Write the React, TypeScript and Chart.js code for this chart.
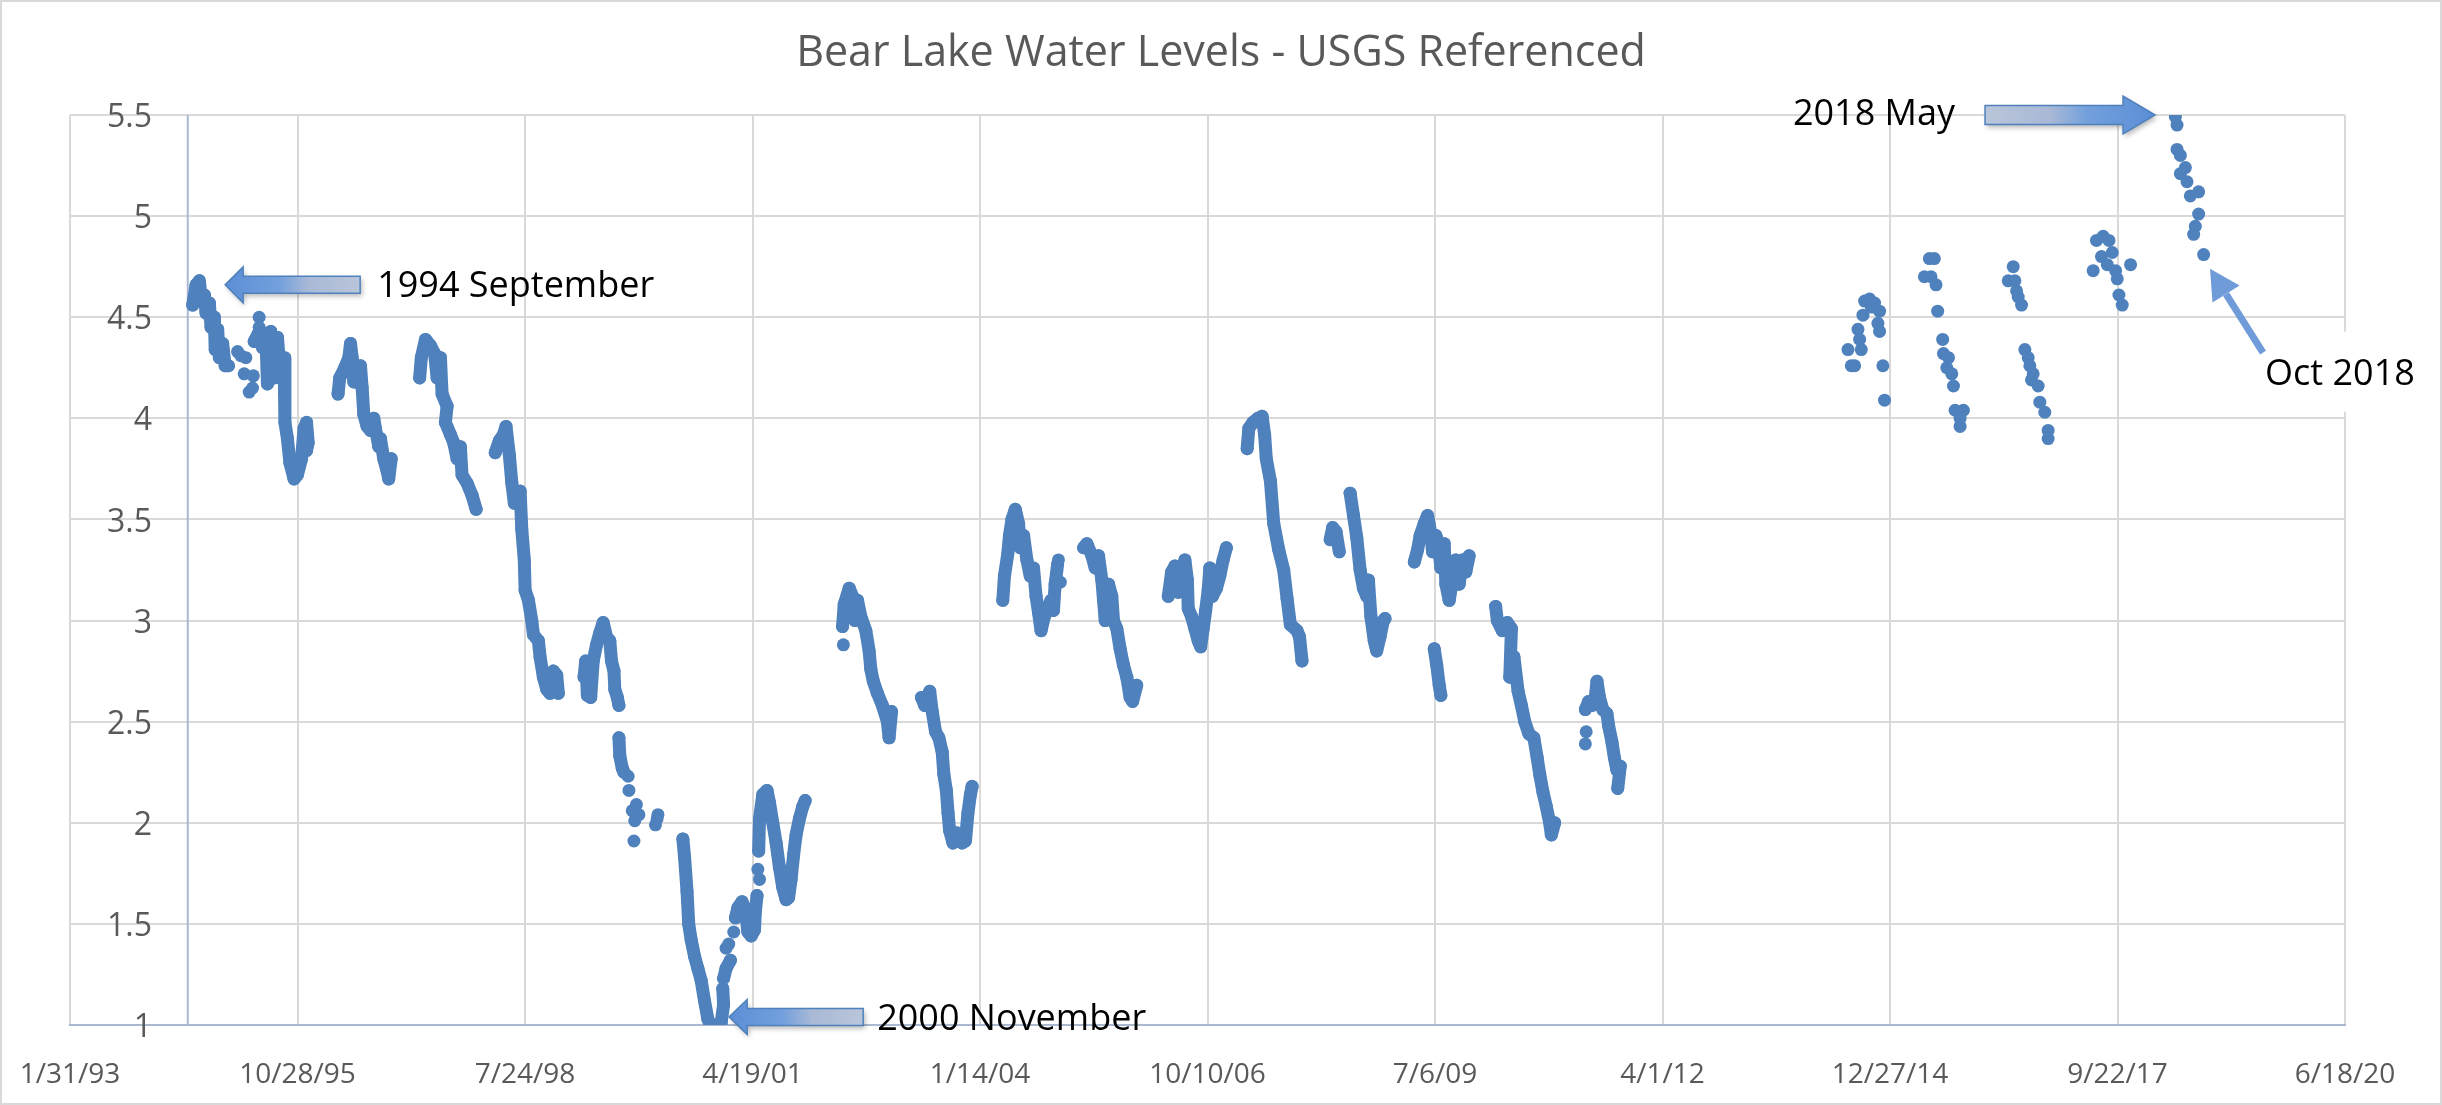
import { useEffect, useRef } from "react";
import { Chart, registerables } from "chart.js";

Chart.register(...registerables);

// x axis is an Excel-style date serial (days since 1899-12-30); readings are
// noted as decimal years and converted on the way in.
const toSerial = (year: number) => {
  const whole = Math.floor(year);
  return (Date.UTC(whole, 0, 1) - Date.UTC(1899, 11, 30)) / 864e5 + (year - whole) * 365.25;
};

const chartTitle = "Bear Lake Water Levels - USGS Referenced";

const xTickLabels = [
  "1/31/93", "10/28/95", "7/24/98", "4/19/01", "1/14/04", "10/10/06",
  "7/6/09", "4/1/12", "12/27/14", "9/22/17", "6/18/20",
];
const xFirstTick = 34000;
const xLastTick = 44000;
const xTickStep = 1000;
const yTickValues = [1, 1.5, 2, 2.5, 3, 3.5, 4, 4.5, 5, 5.5];
// vertical axis crosses the date axis here (Excel "crosses at")
const axisCrossYear = 1994.5;
// right edge of the value labels, a little left of that axis
const yLabelEdgeYear = 1994.07;

type Reading = [number, number]; // [decimal year, level]

// dense daily stretches (drawn as joined dots)
const run1994: Reading[] = [
  [1994.56, 4.56], [1994.6, 4.66], [1994.64, 4.68], [1994.66, 4.6], [1994.7, 4.61], [1994.72, 4.52],
  [1994.76, 4.57], [1994.78, 4.45], [1994.82, 4.5], [1994.83, 4.34], [1994.86, 4.44], [1994.88, 4.3],
  [1994.92, 4.37], [1994.95, 4.26], [1994.99, 4.26],
];
const run1995: Reading[] = [
  [1995.3, 4.38], [1995.35, 4.42], [1995.4, 4.35], [1995.44, 4.42], [1995.46, 4.17], [1995.5, 4.43],
  [1995.54, 4.2], [1995.58, 4.4], [1995.62, 4.2], [1995.66, 4.3], [1995.67, 3.98], [1995.7, 3.9],
  [1995.73, 3.78], [1995.78, 3.7], [1995.82, 3.72], [1995.87, 3.8], [1995.9, 3.95], [1995.93, 3.98],
  [1995.95, 3.88], [1995.93, 3.84],
];
const run1996: Reading[] = [
  [1996.31, 4.12], [1996.33, 4.2], [1996.38, 4.24], [1996.44, 4.3], [1996.46, 4.37], [1996.48, 4.3],
  [1996.5, 4.18], [1996.54, 4.22], [1996.58, 4.26], [1996.6, 4.15], [1996.62, 4.02], [1996.66, 3.96],
  [1996.7, 3.94], [1996.74, 4.0], [1996.76, 3.95], [1996.8, 3.86], [1996.82, 3.9], [1996.86, 3.8],
  [1996.9, 3.74], [1996.92, 3.7], [1996.95, 3.8],
];
const run1997: Reading[] = [
  [1997.29, 4.2], [1997.31, 4.3], [1997.36, 4.39], [1997.42, 4.36], [1997.47, 4.32], [1997.5, 4.2],
  [1997.54, 4.3], [1997.56, 4.12], [1997.62, 4.06], [1997.6, 3.98], [1997.66, 3.92], [1997.7, 3.88],
  [1997.74, 3.8], [1997.78, 3.86], [1997.8, 3.72], [1997.86, 3.68], [1997.92, 3.62], [1997.97, 3.55],
];
const run1998: Reading[] = [
  [1998.2, 3.83], [1998.25, 3.89], [1998.3, 3.92], [1998.33, 3.96], [1998.37, 3.82], [1998.4, 3.68],
  [1998.43, 3.58], [1998.5, 3.64], [1998.52, 3.45], [1998.55, 3.3], [1998.56, 3.15], [1998.6, 3.1],
  [1998.64, 3.0], [1998.66, 2.93], [1998.72, 2.9], [1998.74, 2.82], [1998.78, 2.72], [1998.82, 2.66],
  [1998.86, 2.64], [1998.9, 2.75], [1998.94, 2.73], [1998.96, 2.64],
];
const run1999: Reading[] = [
  [1999.27, 2.72], [1999.29, 2.8], [1999.31, 2.63], [1999.35, 2.62], [1999.38, 2.8], [1999.42, 2.88],
  [1999.46, 2.94], [1999.5, 2.99], [1999.54, 2.92], [1999.58, 2.9], [1999.6, 2.8], [1999.63, 2.75],
  [1999.64, 2.66], [1999.67, 2.62], [1999.69, 2.58],
];
const run1999Fall: Reading[] = [[1999.69, 2.42], [1999.7, 2.33], [1999.73, 2.27], [1999.75, 2.25]];
const run2000: Reading[] = [
  [2000.46, 1.92], [2000.48, 1.83], [2000.51, 1.66], [2000.53, 1.5], [2000.56, 1.42], [2000.6, 1.34],
  [2000.64, 1.28], [2000.68, 1.22], [2000.72, 1.12], [2000.76, 1.03], [2000.79, 1.0], [2000.86, 1.0],
  [2000.92, 1.01], [2000.95, 1.1], [2000.94, 1.18],
];
const run2001Early: Reading[] = [[2000.95, 1.23], [2000.98, 1.28], [2001.03, 1.32]];
const run2001Spring: Reading[] = [
  [2001.09, 1.53], [2001.12, 1.58], [2001.17, 1.61], [2001.21, 1.57], [2001.24, 1.46], [2001.28, 1.44],
  [2001.32, 1.47], [2001.33, 1.56], [2001.35, 1.64],
];
const run2001: Reading[] = [
  [2001.37, 1.86], [2001.38, 2.02], [2001.42, 2.14], [2001.47, 2.16], [2001.5, 2.1], [2001.54, 2.0],
  [2001.58, 1.9], [2001.62, 1.78], [2001.66, 1.68], [2001.7, 1.62], [2001.73, 1.63], [2001.76, 1.72],
  [2001.79, 1.84], [2001.82, 1.94], [2001.86, 2.02], [2001.9, 2.08], [2001.93, 2.11],
];
const run2002: Reading[] = [
  [2002.38, 2.97], [2002.4, 3.08], [2002.46, 3.16], [2002.5, 3.12], [2002.53, 3.0], [2002.56, 3.1],
  [2002.6, 3.02], [2002.66, 2.95], [2002.7, 2.85], [2002.72, 2.76], [2002.75, 2.7], [2002.8, 2.64],
  [2002.86, 2.58], [2002.92, 2.5], [2002.94, 2.42], [2002.97, 2.55],
];
const run2003: Reading[] = [
  [2003.33, 2.62], [2003.37, 2.58], [2003.43, 2.65], [2003.46, 2.55], [2003.5, 2.45], [2003.54, 2.42],
  [2003.58, 2.35], [2003.6, 2.24], [2003.63, 2.16], [2003.65, 2.05], [2003.67, 1.96], [2003.71, 1.9],
  [2003.76, 1.95], [2003.82, 1.9], [2003.86, 1.91], [2003.89, 2.05], [2003.92, 2.14], [2003.94, 2.18],
];
const run2004: Reading[] = [
  [2004.31, 3.1], [2004.33, 3.22], [2004.37, 3.33], [2004.39, 3.42], [2004.42, 3.5], [2004.46, 3.55],
  [2004.5, 3.48], [2004.52, 3.36], [2004.56, 3.42], [2004.6, 3.3], [2004.64, 3.22], [2004.68, 3.26],
  [2004.71, 3.12], [2004.74, 3.04], [2004.77, 2.95], [2004.81, 3.02], [2004.85, 3.06], [2004.89, 3.1],
  [2004.92, 3.05], [2004.94, 3.18], [2004.97, 3.28],
];
const run2005: Reading[] = [
  [2005.28, 3.36], [2005.32, 3.38], [2005.38, 3.32], [2005.42, 3.26], [2005.46, 3.32], [2005.5, 3.2],
  [2005.52, 3.1], [2005.54, 3.0], [2005.58, 3.18], [2005.62, 3.12], [2005.64, 3.0], [2005.68, 2.96],
  [2005.72, 2.86], [2005.76, 2.78], [2005.8, 2.72], [2005.84, 2.62], [2005.87, 2.6], [2005.92, 2.68],
];
const run2006: Reading[] = [
  [2006.3, 3.12], [2006.34, 3.24], [2006.38, 3.27], [2006.42, 3.14], [2006.46, 3.2], [2006.5, 3.3],
  [2006.53, 3.2], [2006.54, 3.06], [2006.58, 3.02], [2006.62, 2.96], [2006.66, 2.9], [2006.69, 2.87],
  [2006.72, 2.96], [2006.75, 3.05], [2006.78, 3.15], [2006.8, 3.26], [2006.83, 3.12], [2006.88, 3.16],
  [2006.92, 3.22], [2006.96, 3.3], [2007.0, 3.36],
];
const run2007: Reading[] = [
  [2007.25, 3.85], [2007.27, 3.95], [2007.32, 3.98], [2007.38, 4.0], [2007.43, 4.01], [2007.46, 3.92],
  [2007.48, 3.8], [2007.53, 3.69], [2007.57, 3.48], [2007.63, 3.35], [2007.69, 3.25], [2007.73, 3.11],
  [2007.77, 2.98], [2007.85, 2.95], [2007.88, 2.92], [2007.91, 2.8],
];
const run2008Early: Reading[] = [[2008.25, 3.4], [2008.28, 3.46], [2008.32, 3.44], [2008.36, 3.34]];
const run2008: Reading[] = [
  [2008.49, 3.63], [2008.53, 3.52], [2008.57, 3.41], [2008.61, 3.25], [2008.65, 3.16], [2008.69, 3.12],
  [2008.71, 3.2], [2008.74, 3.02], [2008.78, 2.9], [2008.81, 2.85], [2008.85, 2.92], [2008.89, 3.0],
  [2008.91, 3.01],
];
const run2009: Reading[] = [
  [2009.26, 3.29], [2009.3, 3.35], [2009.33, 3.42], [2009.38, 3.48], [2009.42, 3.52], [2009.46, 3.43],
  [2009.48, 3.34], [2009.52, 3.42], [2009.55, 3.38], [2009.58, 3.26], [2009.62, 3.38], [2009.64, 3.18],
  [2009.68, 3.1], [2009.72, 3.2], [2009.76, 3.3], [2009.8, 3.18], [2009.84, 3.3], [2009.88, 3.24],
  [2009.92, 3.32],
];
const run2009Column: Reading[] = [[2009.5, 2.86], [2009.53, 2.78], [2009.56, 2.68], [2009.58, 2.63]];
const run2010: Reading[] = [
  [2010.24, 3.07], [2010.26, 3.0], [2010.32, 2.95], [2010.38, 2.99], [2010.43, 2.96], [2010.41, 2.72],
  [2010.46, 2.82], [2010.51, 2.65], [2010.55, 2.58], [2010.59, 2.5], [2010.64, 2.44], [2010.7, 2.42],
  [2010.74, 2.32], [2010.77, 2.24], [2010.81, 2.15], [2010.85, 2.08], [2010.89, 2.0], [2010.91, 1.94],
  [2010.95, 2.0],
];
const run2011: Reading[] = [
  [2011.32, 2.56], [2011.36, 2.6], [2011.4, 2.58], [2011.44, 2.62], [2011.46, 2.7], [2011.49, 2.62],
  [2011.53, 2.56], [2011.58, 2.54], [2011.6, 2.48], [2011.64, 2.4], [2011.67, 2.32], [2011.7, 2.26],
  [2011.74, 2.28], [2011.71, 2.17],
];

// single scattered readings
const spots1995: Reading[] = [
  [1995.1, 4.33], [1995.14, 4.31], [1995.2, 4.3], [1995.18, 4.22], [1995.29, 4.21], [1995.24, 4.13],
  [1995.28, 4.15], [1995.36, 4.5], [1995.36, 4.45],
];
const spots1999: Reading[] = [
  [1999.8, 2.23], [1999.81, 2.16], [1999.85, 2.06], [1999.9, 2.09], [1999.88, 2.01], [1999.93, 2.04],
  [1999.87, 1.91], [2000.13, 1.99], [2000.16, 2.04], [2000.15, 2.02],
];
const spots2001: Reading[] = [[2000.98, 1.38], [2001.01, 1.4], [2001.07, 1.46], [2001.36, 1.77], [2001.38, 1.72]];
const spots2002: Reading[] = [[2002.39, 2.88], [2004.98, 3.3], [2005.0, 3.19]];
const spots2011: Reading[] = [[2011.33, 2.45], [2011.32, 2.39]];
const reads2014: Reading[] = [
  [2014.68, 4.58], [2014.74, 4.59], [2014.8, 4.57], [2014.86, 4.53], [2014.66, 4.51], [2014.6, 4.44],
  [2014.62, 4.39], [2014.48, 4.34], [2014.64, 4.34], [2014.52, 4.26], [2014.56, 4.26], [2014.86, 4.43],
  [2014.9, 4.26], [2014.92, 4.09], [2014.84, 4.47], [2014.76, 4.55],
];
const reads2015: Reading[] = [
  [2015.46, 4.79], [2015.52, 4.79], [2015.4, 4.7], [2015.48, 4.7], [2015.54, 4.66], [2015.56, 4.53],
  [2015.62, 4.39], [2015.63, 4.32], [2015.69, 4.3], [2015.67, 4.25], [2015.73, 4.22], [2015.75, 4.16],
  [2015.77, 4.04], [2015.87, 4.04], [2015.83, 4.0], [2015.83, 3.96],
];
const reads2016: Reading[] = [
  [2016.47, 4.75], [2016.41, 4.68], [2016.49, 4.68], [2016.51, 4.63], [2016.53, 4.6], [2016.57, 4.56],
  [2016.61, 4.34], [2016.65, 4.3], [2016.67, 4.26], [2016.71, 4.22], [2016.69, 4.19], [2016.77, 4.16],
  [2016.79, 4.08], [2016.85, 4.03], [2016.89, 3.94], [2016.89, 3.9],
];
const reads2017: Reading[] = [
  [2017.47, 4.88], [2017.55, 4.9], [2017.62, 4.88], [2017.66, 4.82], [2017.53, 4.8], [2017.6, 4.76],
  [2017.43, 4.73], [2017.7, 4.73], [2017.88, 4.76], [2017.72, 4.69], [2017.74, 4.61], [2017.78, 4.56],
];
const reads2018: Reading[] = [
  [2018.42, 5.49], [2018.44, 5.45], [2018.44, 5.33], [2018.48, 5.3], [2018.54, 5.24], [2018.48, 5.21],
  [2018.56, 5.17], [2018.6, 5.1], [2018.7, 5.12], [2018.7, 5.01], [2018.66, 4.95], [2018.64, 4.91],
  [2018.76, 4.81],
];

const levelRuns = [
  run1994, run1995, run1996, run1997, run1998, run1999, run1999Fall, run2000, run2001Early,
  run2001Spring, run2001, run2002, run2003, run2004, run2005, run2006, run2007, run2008Early,
  run2008, run2009, run2009Column, run2010, run2011,
];
const spotReadings = [
  ...spots1995, ...spots1999, ...spots2001, ...spots2002, ...spots2011,
  ...reads2014, ...reads2015, ...reads2016, ...reads2017, ...reads2018,
];

// callouts: anchored at the arrow tip (data coords), the rest in px
const blockCallouts = [
  { text: "1994 September", tipYear: 1994.95, tipLevel: 4.66, dir: -1, headLen: 18, headH: 36, bodyLen: 117, bodyH: 17, gap: 17, textDy: 2 },
  { text: "2000 November", tipYear: 2001.015, tipLevel: 1.04, dir: -1, headLen: 18, headH: 35, bodyLen: 116, bodyH: 17, gap: 14, textDy: 3 },
  { text: "2018 May", tipYear: 2018.175, tipLevel: 5.5, dir: 1, headLen: 32, headH: 38, bodyLen: 138, bodyH: 19, gap: 30, textDy: 0 },
];
const pointerCallout = { text: "Oct 2018", tipYear: 2018.837, tipLevel: 4.74, tailDx: 53, tailDy: 84, headLen: 30, headHalf: 16, textDx: 55, textDy: 106 };

const FONT = '"Open Sans", sans-serif';
const DOT = "#4f81bd";
const GRID = "#d9d9d9";
const AXIS = "#aab8d0";
const LABEL = "#595959";

const toPoints = (rows: Reading[]) => rows.map(([yr, lv]) => ({ x: toSerial(yr), y: lv }));

// title, value labels (Excel puts them beside an axis that crosses inside the
// plot) and the arrow callouts
const overlayPlugin = {
  id: "overlays",
  afterDraw(chart: Chart) {
    const { ctx, scales } = chart;
    const px = (yr: number) => scales.x.getPixelForValue(toSerial(yr));
    const py = (lv: number) => scales.y.getPixelForValue(lv);
    ctx.save();
    ctx.textBaseline = "middle";

    ctx.fillStyle = LABEL;
    ctx.textAlign = "center";
    ctx.font = `43px ${FONT}`;
    ctx.fillText(chartTitle, chart.width / 2, 52);

    ctx.textAlign = "right";
    ctx.font = `32px ${FONT}`;
    const labelEdge = px(yLabelEdgeYear);
    for (const v of yTickValues) ctx.fillText(String(v), labelEdge, py(v) + 3);

    ctx.font = `36px ${FONT}`;
    for (const c of blockCallouts) {
      const tx = px(c.tipYear);
      const ty = py(c.tipLevel);
      const base = tx - c.dir * c.headLen;
      const tail = base - c.dir * c.bodyLen;
      ctx.beginPath();
      ctx.moveTo(tx, ty);
      ctx.lineTo(base, ty - c.headH / 2);
      ctx.lineTo(base, ty - c.bodyH / 2);
      ctx.lineTo(tail, ty - c.bodyH / 2);
      ctx.lineTo(tail, ty + c.bodyH / 2);
      ctx.lineTo(base, ty + c.bodyH / 2);
      ctx.lineTo(base, ty + c.headH / 2);
      ctx.closePath();
      const g = ctx.createLinearGradient(tx, 0, tail, 0);
      g.addColorStop(0, "#5b8ed6");
      g.addColorStop(0.4, "#73a0dc");
      g.addColorStop(0.62, "#a9b9d6");
      g.addColorStop(1, "#b9c5d9");
      ctx.save();
      ctx.shadowColor = "rgba(0,0,0,0.28)";
      ctx.shadowBlur = 5;
      ctx.shadowOffsetX = 2;
      ctx.shadowOffsetY = 3;
      ctx.fillStyle = g;
      ctx.fill();
      ctx.restore();
      ctx.strokeStyle = "#4f81bd";
      ctx.lineWidth = 1.5;
      ctx.stroke();
      ctx.fillStyle = "#000";
      ctx.textAlign = c.dir < 0 ? "left" : "right";
      ctx.fillText(c.text, tail - c.dir * c.gap, ty + c.textDy);
    }

    const o = pointerCallout;
    const tx = px(o.tipYear);
    const ty = py(o.tipLevel);
    const len = Math.hypot(o.tailDx, o.tailDy);
    const ux = -o.tailDx / len;
    const uy = -o.tailDy / len;
    const bx = tx - ux * o.headLen;
    const by = ty - uy * o.headLen;
    const textX = tx + o.textDx;
    const textY = ty + o.textDy;
    // this text box is filled white and hides the grid behind it
    ctx.fillStyle = "#fff";
    ctx.fillRect(textX - 16, textY - 43, chart.width - textX + 15, 80);
    ctx.strokeStyle = "#6f9bd8";
    ctx.lineWidth = 7;
    ctx.beginPath();
    ctx.moveTo(tx + o.tailDx, ty + o.tailDy);
    ctx.lineTo(bx, by);
    ctx.stroke();
    ctx.fillStyle = "#6f9bd8";
    ctx.beginPath();
    ctx.moveTo(tx, ty);
    ctx.lineTo(bx - uy * o.headHalf, by + ux * o.headHalf);
    ctx.lineTo(bx + uy * o.headHalf, by - ux * o.headHalf);
    ctx.closePath();
    ctx.fill();
    ctx.fillStyle = "#000";
    ctx.textAlign = "left";
    ctx.fillText(o.text, textX, textY);
    ctx.restore();
  },
};

export default function App() {
  const canvasRef = useRef<HTMLCanvasElement>(null);

  useEffect(() => {
    if (!canvasRef.current) return;
    const yMin = yTickValues[0];
    const yMax = yTickValues[yTickValues.length - 1];
    const crossX = toSerial(axisCrossYear);

    const chart = new Chart(canvasRef.current, {
      type: "scatter",
      data: {
        datasets: [
          ...levelRuns.map((run) => ({
            data: toPoints(run),
            showLine: true,
            borderColor: DOT,
            borderWidth: 13,
            borderCapStyle: "round" as const,
            borderJoinStyle: "round" as const,
            tension: 0,
            pointRadius: 6.5,
            pointBackgroundColor: DOT,
            pointBorderWidth: 0,
          })),
          {
            data: toPoints(spotReadings),
            showLine: false,
            pointRadius: 6.5,
            pointBackgroundColor: DOT,
            pointBorderWidth: 0,
          },
          {
            // the vertical value axis line
            data: [{ x: crossX, y: yMin }, { x: crossX, y: yMax }],
            showLine: true,
            borderColor: AXIS,
            borderWidth: 2,
            pointRadius: 0,
            order: 10,
          },
        ],
      },
      options: {
        animation: false,
        responsive: true,
        maintainAspectRatio: false,
        events: [],
        layout: { padding: { left: 68, right: 95, top: 113, bottom: -22 } },
        plugins: {
          legend: { display: false },
          tooltip: { enabled: false },
        },
        scales: {
          x: {
            type: "linear",
            min: xFirstTick,
            max: xLastTick,
            ticks: {
              stepSize: xTickStep,
              autoSkip: false,
              maxRotation: 0,
              padding: 16,
              color: LABEL,
              font: { family: FONT, size: 28, lineHeight: 68 / 28 },
              callback: (_v, i) => xTickLabels[i],
            },
            grid: { color: GRID, lineWidth: 2, drawTicks: false },
            border: { color: AXIS, width: 2 },
          },
          y: {
            type: "linear",
            min: yMin,
            max: yMax,
            ticks: { stepSize: yTickValues[1] - yTickValues[0], display: false },
            grid: {
              color: (c) => (c.tick && c.tick.value === yMin ? "rgba(0,0,0,0)" : GRID),
              lineWidth: 2,
              drawTicks: false,
            },
            border: { display: false },
          },
        },
      },
      plugins: [overlayPlugin],
    });

    return () => chart.destroy();
  }, []);

  return (
    <div
      style={{
        position: "fixed",
        left: 0,
        top: 0,
        width: 2442,
        height: 1105,
        boxSizing: "border-box",
        border: `2px solid ${GRID}`,
        background: "#fff",
      }}
    >
      <div style={{ position: "relative", width: "100%", height: "100%" }}>
        <canvas ref={canvasRef} />
      </div>
    </div>
  );
}
